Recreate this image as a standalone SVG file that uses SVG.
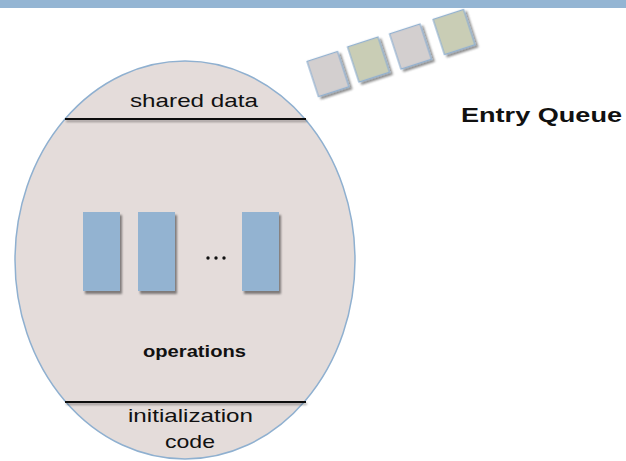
<svg xmlns="http://www.w3.org/2000/svg" width="626" height="461" viewBox="0 0 626 461">
  <defs>
    <filter id="shadow" x="-20%" y="-20%" width="150%" height="150%">
      <feGaussianBlur in="SourceAlpha" stdDeviation="1.2"/>
      <feOffset dx="1.5" dy="2.5" result="o"/>
      <feComponentTransfer><feFuncA type="linear" slope="0.45"/></feComponentTransfer>
      <feMerge><feMergeNode/><feMergeNode in="SourceGraphic"/></feMerge>
    </filter>
    <filter id="lineShadow" filterUnits="userSpaceOnUse" x="0" y="0" width="626" height="461">
      <feGaussianBlur in="SourceAlpha" stdDeviation="0.8"/>
      <feOffset dx="1" dy="2"/>
      <feComponentTransfer><feFuncA type="linear" slope="0.35"/></feComponentTransfer>
      <feMerge><feMergeNode/><feMergeNode in="SourceGraphic"/></feMerge>
    </filter>
  </defs>
  <style>
    .label { font-family: "Liberation Sans", Arial, sans-serif; fill: #111; }
    .bold { font-weight: bold; }
    .op { fill: #93b3d1; filter: url(#shadow); }
    .q { stroke: #8fb0d0; stroke-width: 1.2; filter: url(#shadow); }
    .gray { fill: #d3cfcf; }
    .green { fill: #c9cdb5; }
    .divider { fill: #111; filter: url(#lineShadow); }
  </style>
  <rect width="626" height="461" fill="#ffffff"/>
  <!-- title bar -->
  <rect x="0" y="0" width="626" height="8" fill="#94b5d3"/>

  <!-- monitor body -->
  <g id="monitor">
    <ellipse cx="185" cy="260" rx="170" ry="199" fill="#e4dcda" stroke="#8fb0d0" stroke-width="1.5"/>
    <rect class="divider" x="65" y="118" width="241" height="2"/>
    <rect class="divider" x="65" y="401" width="241" height="2"/>
  </g>

  <g id="shared-data">
    <text class="label" x="194" y="107" font-size="19" text-anchor="middle" textLength="128" lengthAdjust="spacingAndGlyphs">shared data</text>
  </g>

  <g id="operations">
    <rect class="op" x="83" y="212" width="37" height="79"/>
    <rect class="op" x="138" y="212" width="37" height="79"/>
    <rect class="op" x="242" y="212" width="37" height="79"/>
    <circle cx="208" cy="258" r="1.7" fill="#111"/>
    <circle cx="216" cy="258" r="1.7" fill="#111"/>
    <circle cx="224" cy="258" r="1.7" fill="#111"/>
    <text class="label bold" x="194.5" y="357" font-size="16" text-anchor="middle" textLength="103" lengthAdjust="spacingAndGlyphs">operations</text>
  </g>

  <g id="initialization-code">
    <text class="label" x="190.5" y="422" font-size="19" text-anchor="middle" textLength="125" lengthAdjust="spacingAndGlyphs">initialization</text>
    <text class="label" x="190" y="448" font-size="19" text-anchor="middle" textLength="50" lengthAdjust="spacingAndGlyphs">code</text>
  </g>

  <!-- entry queue items -->
  <g id="entry-queue">
    <rect class="q gray" x="-16" y="-18.5" width="32" height="37" transform="translate(328 74) rotate(-18)"/>
    <rect class="q green" x="-16" y="-18.5" width="32" height="37" transform="translate(368.5 59.5) rotate(-18)"/>
    <rect class="q gray" x="-16" y="-18.5" width="32" height="37" transform="translate(410.5 46.5) rotate(-18)"/>
    <rect class="q green" x="-16" y="-18.5" width="32" height="37" transform="translate(454 32) rotate(-18)"/>
    <text class="label bold" x="461" y="122" font-size="20" textLength="161" lengthAdjust="spacingAndGlyphs">Entry Queue</text>
  </g>
</svg>
